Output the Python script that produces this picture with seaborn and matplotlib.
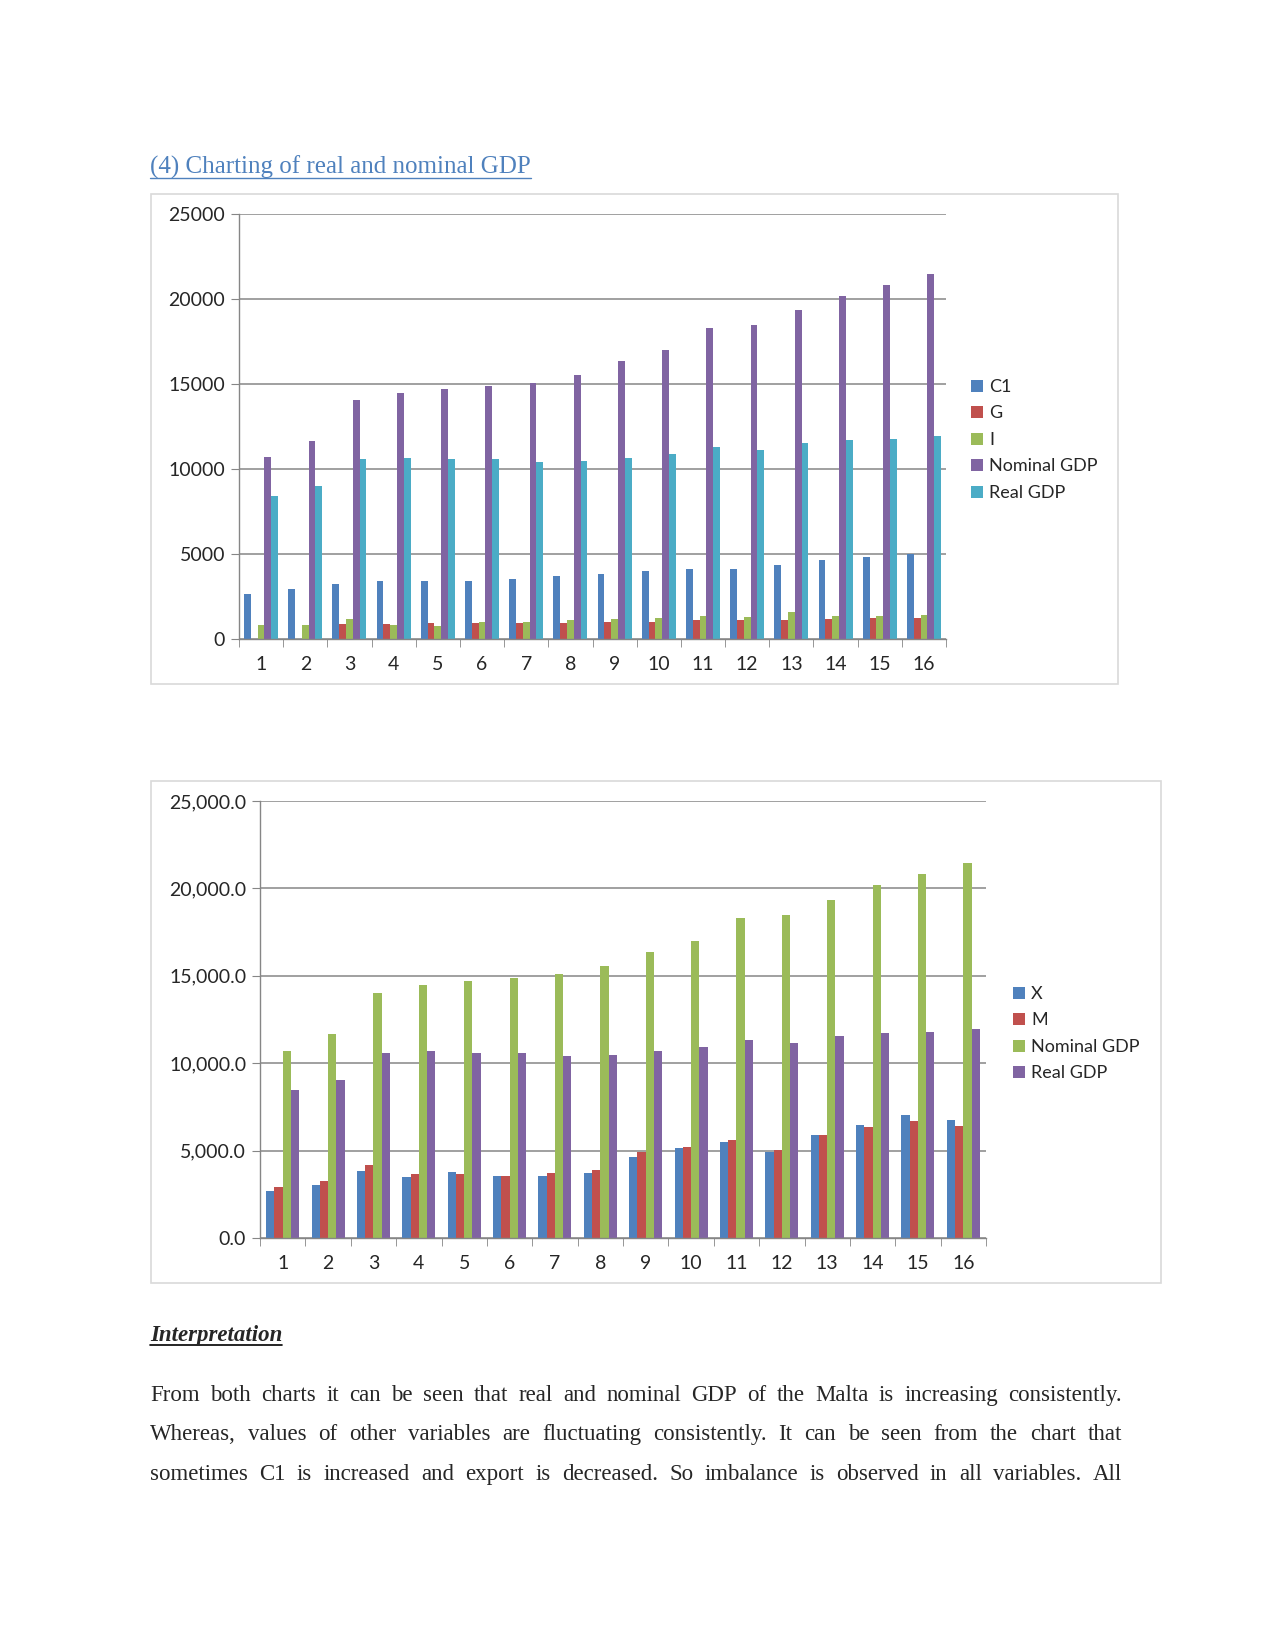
import matplotlib
matplotlib.use('Agg')
import matplotlib.pyplot as plt
import pandas as pd
import seaborn as sns
from matplotlib.lines import Line2D
from matplotlib.patches import Rectangle
from matplotlib.ticker import FixedLocator, StrMethodFormatter

# ---- data ----
years = [str(i) for i in range(1, 17)]

c1 = [2640, 2930, 3230, 3400, 3400, 3400, 3520, 3700, 3810, 3990, 4110, 4110, 4340, 4640, 4810, 4990]
gov = [0, 0, 880, 880, 940, 940, 940, 940, 1000, 1000, 1115, 1115, 1115, 1170, 1230, 1230]
inv = [820, 820, 1170, 820, 760, 980, 980, 1115, 1170, 1230, 1350, 1290, 1585, 1350, 1350, 1410]
nominal_gdp = [10680, 11660, 14030, 14490, 14730, 14880, 15080, 15540, 16380, 16990, 18320, 18470, 19360, 20200, 20840, 21450]
real_gdp = [8440, 9020, 10610, 10670, 10560, 10560, 10390, 10450, 10670, 10900, 11310, 11140, 11540, 11720, 11770, 11970]
exports = [2670, 3015, 3855, 3510, 3800, 3570, 3570, 3700, 4620, 5130, 5475, 4900, 5880, 6490, 7060, 6775]
imports = [2900, 3245, 4200, 3645, 3645, 3570, 3700, 3870, 4900, 5190, 5590, 5020, 5880, 6330, 6720, 6430]

labels_top = ['C1', 'G', 'I', 'Nominal GDP', 'Real GDP']
colors_top = ['#4F81BD', '#C0504D', '#9BBB59', '#8064A2', '#4BACC6']
labels_bottom = ['X', 'M', 'Nominal GDP', 'Real GDP']
colors_bottom = ['#4F81BD', '#C0504D', '#9BBB59', '#8064A2']

title_text = '(4) Charting of real and nominal GDP'
heading_text = 'Interpretation'
para_lines = [
    'From both charts it can be seen that real and nominal GDP of the Malta is increasing consistently.',
    'Whereas, values of other variables are fluctuating consistently. It can be seen from the chart that',
    'sometimes C1 is increased and export is decreased. So imbalance is observed in all variables. All',
]

W, H = 1275, 1651


def fx(px):
    return px / W


def fy(py):
    return 1 - py / H


def long_frame(names, series):
    rows = []
    for name, vals in zip(names, series):
        for yr, v in zip(years, vals):
            rows.append({'year': yr, 'series': name, 'value': v})
    return pd.DataFrame(rows)


def style_axes(ax, fmt):
    ax.set_xlim(-0.5, 15.5)
    ax.set_ylim(0, 25000)
    ax.set_yticks(range(0, 25001, 5000))
    ax.yaxis.set_major_formatter(fmt)
    ax.grid(axis='y', color='#868686', linewidth=1.1)
    ax.grid(axis='x', visible=False)
    ax.set_axisbelow(True)
    for s in ['top', 'right']:
        ax.spines[s].set_visible(False)
    for s in ['left', 'bottom']:
        ax.spines[s].set_color('#868686')
        ax.spines[s].set_linewidth(1.0)
    ax.tick_params(axis='y', length=6, color='#868686', labelsize=14, pad=4, left=True)
    ax.tick_params(axis='x', which='major', length=0, labelsize=14, pad=12)
    ax.xaxis.set_minor_locator(FixedLocator([i - 0.5 for i in range(17)]))
    ax.tick_params(axis='x', which='minor', length=6, color='#868686', bottom=True)
    ax.set_xlabel('')
    ax.set_ylabel('')


def chart_box(fig, x0, y0, x1, y1):
    fig.add_artist(Rectangle((fx(x0), fy(y1)), (x1 - x0) / W, (y1 - y0) / H,
                             transform=fig.transFigure, fill=False,
                             edgecolor='#d9d9d9', linewidth=1.2))


def add_legend(ax, fig, names, colors, x, y):
    handles = [Rectangle((0, 0), 1, 1, facecolor=c, edgecolor='none') for c in colors]
    leg = ax.legend(handles, names, loc='upper left', bbox_to_anchor=(fx(x), fy(y)),
                    bbox_transform=fig.transFigure, frameon=False, fontsize=13,
                    handlelength=0.65, handleheight=0.65, handletextpad=0.35,
                    labelspacing=0.58, borderpad=0, borderaxespad=0)
    return leg


sns.set_style('white')
plt.rcParams['font.family'] = ['Lato', 'DejaVu Sans']

fig = plt.figure(figsize=(12.75, 16.51), dpi=100)

# ---- chart 1 ----
chart_box(fig, 150.5, 194, 1118, 684)
ax1 = fig.add_axes([fx(239), fy(639), (946 - 239) / W, (639 - 214) / H])
df1 = long_frame(labels_top, [c1, gov, inv, nominal_gdp, real_gdp])
sns.barplot(data=df1, x='year', y='value', hue='series', palette=colors_top,
            width=0.77, gap=0, saturation=1, linewidth=0, errorbar=None,
            legend=False, ax=ax1)
style_axes(ax1, StrMethodFormatter('{x:.0f}'))
add_legend(ax1, fig, labels_top, colors_top, 971, 379)

# ---- chart 2 ----
chart_box(fig, 150.5, 781, 1161, 1283)
ax2 = fig.add_axes([fx(260), fy(1238), (986 - 260) / W, (1238 - 801) / H])
df2 = long_frame(labels_bottom, [exports, imports, nominal_gdp, real_gdp])
sns.barplot(data=df2, x='year', y='value', hue='series', palette=colors_bottom,
            width=0.73, gap=0, saturation=1, linewidth=0, errorbar=None,
            legend=False, ax=ax2)
style_axes(ax2, StrMethodFormatter('{x:,.1f}'))
add_legend(ax2, fig, labels_bottom, colors_bottom, 1013, 986)

# ---- page text ----
renderer = fig.canvas.get_renderer()
serif = ['Liberation Serif', 'DejaVu Serif']


def underline(t, base_px, color, lw=1.0):
    bb = t.get_window_extent(renderer)
    fig.add_artist(Line2D([bb.x0 / W, bb.x1 / W], [fy(base_px + 4)] * 2,
                          transform=fig.transFigure, color=color, linewidth=lw))


t_title = fig.text(fx(150), fy(174), title_text, fontsize=18, family=serif,
                   color='#4F81BD', va='baseline')
underline(t_title, 174, '#4F81BD')

t_head = fig.text(fx(150), fy(1341), heading_text, fontsize=16.5, family=serif,
                  fontweight='bold', fontstyle='italic', va='baseline')
underline(t_head, 1341, 'black', 1.2)

left_px, right_px = 150, 1122
for line, base in zip(para_lines, [1401, 1440, 1480]):
    words = line.split()
    arts = [fig.text(0, fy(base), w, fontsize=16.5, family=serif, va='baseline') for w in words]
    widths = [a.get_window_extent(renderer).width for a in arts]
    space = (right_px - left_px - sum(widths)) / (len(words) - 1)
    x = left_px
    for a, w in zip(arts, widths):
        a.set_x(fx(x))
        x += w + space

fig.savefig('out.png', dpi=100, facecolor='white')
